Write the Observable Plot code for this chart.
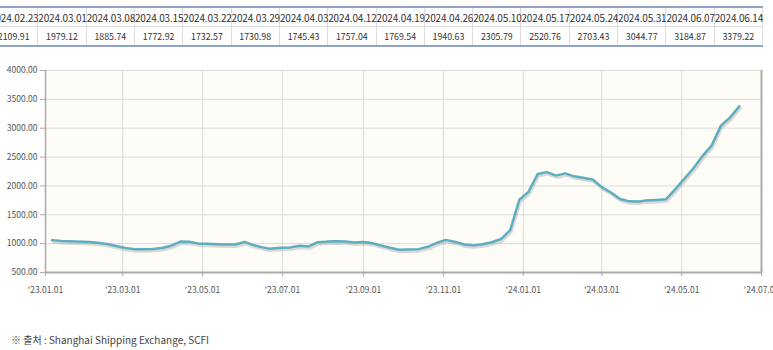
<!DOCTYPE html>
<html><head><meta charset="utf-8">
<script src="https://cdn.jsdelivr.net/npm/d3@7"></script>
<script src="https://cdn.jsdelivr.net/npm/@observablehq/plot@0.6"></script>
<style>
html,body{margin:0;padding:0;background:#fff;overflow:hidden;width:773px;height:350px;}
#tbl{position:absolute;left:0;top:0;width:773px;height:50px;overflow:hidden;}
#tbl table{position:absolute;left:-11px;top:6px;border-collapse:collapse;table-layout:fixed;width:773px;font-family:"Noto Sans CJK KR",sans-serif;color:#333;border-top:2px solid #8fa3c8;border-bottom:2px solid #8fa3c8;}
#tbl td{padding:0;text-align:center;border-left:1px solid #dcdcdc;border-right:1px solid #dcdcdc;height:18px;white-space:nowrap;overflow:visible;}
#tbl tr.h td{font-size:10px;letter-spacing:-0.15px;border-bottom:1px solid #dcdcdc;}
#tbl tr.v td{font-size:8.8px;}
#chart{position:absolute;left:0;top:52px;}
#foot{position:absolute;left:11px;top:332px;font-family:"Noto Sans CJK KR",sans-serif;font-size:10px;color:#444;line-height:16px;white-space:nowrap;}
</style>
</head><body>
<div id="tbl"></div>
<div id="chart"></div>
<div id="foot">※ 출처 : Shanghai Shipping Exchange, SCFI</div>
<script>
// table (latest weeks)
const tableDates = ["2024.02.23","2024.03.01","2024.03.08","2024.03.15","2024.03.22","2024.03.29","2024.04.03","2024.04.12","2024.04.19","2024.04.26","2024.05.10","2024.05.17","2024.05.24","2024.05.31","2024.06.07","2024.06.14"];
const tableValues = [2109.91,1979.12,1885.74,1772.92,1732.57,1730.98,1745.43,1757.04,1769.54,1940.63,2305.79,2520.76,2703.43,3044.77,3184.87,3379.22];

// line series
const dates = ["2023-01-06","2023-01-13","2023-01-20","2023-02-03","2023-02-10","2023-02-17","2023-02-24","2023-03-03","2023-03-10","2023-03-17","2023-03-24","2023-03-31","2023-04-07","2023-04-14","2023-04-21","2023-04-28","2023-05-05","2023-05-12","2023-05-19","2023-05-26","2023-06-02","2023-06-09","2023-06-16","2023-06-21","2023-06-30","2023-07-07","2023-07-14","2023-07-21","2023-07-28","2023-08-04","2023-08-11","2023-08-18","2023-08-25","2023-09-01","2023-09-08","2023-09-15","2023-09-22","2023-09-28","2023-10-13","2023-10-20","2023-10-27","2023-11-03","2023-11-10","2023-11-17","2023-11-24","2023-12-01","2023-12-08","2023-12-15","2023-12-22","2023-12-29","2024-01-05","2024-01-12","2024-01-19","2024-01-26","2024-02-02","2024-02-09","2024-02-23","2024-03-01","2024-03-08","2024-03-15","2024-03-22","2024-03-29","2024-04-03","2024-04-12","2024-04-19","2024-04-26","2024-05-10","2024-05-17","2024-05-24","2024-05-31","2024-06-07","2024-06-14"];
const values = [1061,1045,1040,1030,1015,995,960,925,905,905,908,925,965,1035,1033,1000,998,990,985,985,1030,975,935,910,930,935,965,952,1025,1035,1040,1038,1020,1030,1005,965,925,895,905,945,1015,1065,1030,985,970,990,1025,1080,1235,1759.57,1896.65,2206.03,2239.61,2179.09,2218.10,2166.10,2109.91,1979.12,1885.74,1772.92,1732.57,1730.98,1745.43,1757.04,1769.54,1940.63,2305.79,2520.76,2703.43,3044.77,3184.87,3379.22];

const xTickDates = ["2023-01-01","2023-03-01","2023-05-01","2023-07-01","2023-09-01","2023-11-01","2024-01-01","2024-03-01","2024-05-01","2024-07-01"];
const yTicks = [500,1000,1500,2000,2500,3000,3500,4000];

// build table
const tbl = document.createElement("table");
const cg = document.createElement("colgroup");
tableDates.forEach(()=>{const c=document.createElement("col");c.style.width=(773/16)+"px";cg.appendChild(c);});
tbl.appendChild(cg);
const trH = document.createElement("tr"); trH.className="h";
tableDates.forEach(d=>{const td=document.createElement("td");td.textContent=d;trH.appendChild(td);});
const trV = document.createElement("tr"); trV.className="v";
tableValues.forEach(v=>{const td=document.createElement("td");td.textContent=v.toFixed(2);trV.appendChild(td);});
tbl.appendChild(trH); tbl.appendChild(trV);
document.getElementById("tbl").appendChild(tbl);

const data = dates.map((d,i)=>({date:new Date(d), value:values[i]}));
const xTicks = xTickDates.map(d=>new Date(d));
const fmtX = d3.utcFormat("'%y.%m.%d");

const chart = Plot.plot({
  width:773, height:258, marginTop:18, marginBottom:38, marginLeft:45, marginRight:12,
  style:{fontFamily:"'Noto Sans CJK KR', sans-serif", fontSize:"8.5px", color:"#555", background:"transparent", overflow:"visible"},
  x:{type:"utc", domain:[new Date("2023-01-01"), new Date("2024-07-01")], axis:null},
  y:{domain:[500,4000], axis:null},
  marks:[
    Plot.frame({fill:"#fdfcf6", stroke:"none"}),
    Plot.gridX(xTicks, {stroke:"#dcdcdc", strokeOpacity:1}),
    Plot.gridY(yTicks, {stroke:"#dcdcdc", strokeOpacity:1}),
    Plot.ruleX([new Date("2024-07-01")], {stroke:"#aaa", strokeWidth:2}),
    Plot.ruleY([500], {stroke:"#aaa", strokeWidth:2}),
    Plot.ruleX([new Date("2023-01-01")], {stroke:"#aaa", strokeWidth:1.5}),
    Plot.axisX(xTicks, {tickFormat:fmtX, tickSize:4, tickPadding:10, stroke:"#aaa", fill:"#555", label:null}),
    Plot.axisY(yTicks, {tickFormat:d=>d.toFixed(2), tickSize:5, tickPadding:3, stroke:"#aaa", fill:"#555", label:null}),
    Plot.line(data, {x:"date", y:"value", stroke:"#999", strokeOpacity:0.35, strokeWidth:3, dx:1, dy:2}),
    Plot.line(data, {x:"date", y:"value", stroke:"#5eadc0", strokeWidth:2.5})
  ]
});
document.getElementById("chart").appendChild(chart);
</script>
</body></html>
